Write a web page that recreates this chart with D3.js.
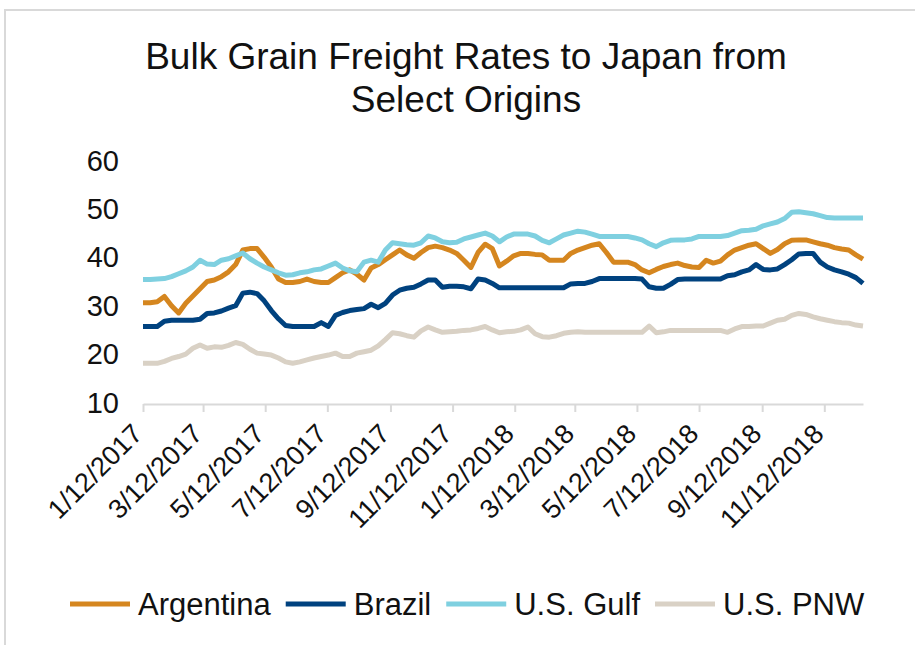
<!DOCTYPE html>
<html>
<head>
<meta charset="utf-8">
<script src="https://cdn.jsdelivr.net/npm/d3@7"></script>
<style>
  body { margin: 0; background: #fff; }
  text { font-family: "Liberation Sans", Arial, sans-serif; fill: #111; }
</style>
</head>
<body>
<script>
// weekly observations, first week and tick labels
const startDate = '2017-01-12';
const tickLabels = ['1/12/2017', '3/12/2017', '5/12/2017', '7/12/2017', '9/12/2017', '11/12/2017',
  '1/12/2018', '3/12/2018', '5/12/2018', '7/12/2018', '9/12/2018', '11/12/2018'];
const yTicks = [10, 20, 30, 40, 50, 60];

const seriesNames = ['Argentina', 'Brazil', 'U.S. Gulf', 'U.S. PNW'];
const seriesColors = ['#d5861f', '#00427f', '#7fd0e0', '#d9d1c5'];

const argentina = [30.6, 30.6, 30.8, 31.9, 30.0, 28.5, 30.5, 32.0, 33.5, 35.0,
  35.3, 36.0, 37.0, 38.5, 41.5, 41.8, 41.8, 40.0, 38.0, 35.5,
  34.8, 34.8, 35.0, 35.5, 35.0, 34.8, 34.8, 35.8, 36.8, 37.4,
  36.5, 35.3, 37.8, 38.5, 39.5, 40.5, 41.5, 40.5, 39.8, 41.0,
  42.0, 42.3, 42.0, 41.5, 40.8, 39.4, 37.9, 41.0, 42.7, 41.8,
  38.2, 39.2, 40.3, 40.8, 40.8, 40.6, 40.5, 39.4, 39.4, 39.4,
  40.8, 41.5, 42.0, 42.5, 42.8, 41.0, 39.0, 39.0, 39.0, 38.5,
  37.4, 36.8, 37.5, 38.1, 38.5, 38.8, 38.3, 38.0, 37.9, 39.4,
  38.8, 39.2, 40.5, 41.5, 42.0, 42.5, 42.8, 41.8, 40.8, 41.6,
  42.8, 43.5, 43.6, 43.6, 43.2, 42.8, 42.5, 42.0, 41.7, 41.5,
  40.5, 39.6];

const brazil = [25.7, 25.7, 25.7, 26.8, 27.0, 27.0, 27.0, 27.0, 27.2, 28.4,
  28.5, 28.9, 29.5, 30.0, 32.6, 32.8, 32.5, 31.0, 29.0, 27.3,
  25.9, 25.7, 25.7, 25.7, 25.7, 26.5, 25.7, 28.0, 28.6, 29.0,
  29.2, 29.4, 30.3, 29.6, 30.5, 32.2, 33.2, 33.6, 33.8, 34.5,
  35.3, 35.3, 33.8, 34.0, 34.0, 33.9, 33.5, 35.5, 35.3, 34.6,
  33.7, 33.7, 33.7, 33.7, 33.7, 33.7, 33.7, 33.7, 33.7, 33.7,
  34.5, 34.6, 34.6, 35.0, 35.6, 35.6, 35.6, 35.6, 35.6, 35.6,
  35.5, 33.9, 33.6, 33.6, 34.4, 35.4, 35.5, 35.5, 35.5, 35.5,
  35.5, 35.5, 36.2, 36.4, 37.0, 37.4, 38.5, 37.5, 37.4, 37.6,
  38.5, 39.5, 40.7, 40.8, 40.8, 39.0, 38.0, 37.4, 37.0, 36.5,
  35.8, 34.6];

const usGulf = [35.4, 35.4, 35.5, 35.6, 36.0, 36.6, 37.2, 38.0, 39.4, 38.6,
  38.5, 39.4, 39.7, 40.3, 40.9, 39.7, 38.8, 38.0, 37.4, 36.8,
  36.3, 36.4, 36.8, 37.0, 37.4, 37.6, 38.2, 38.8, 37.8, 37.2,
  37.0, 39.0, 39.4, 39.0, 41.5, 43.0, 42.8, 42.6, 42.5, 43.0,
  44.4, 44.0, 43.2, 43.0, 43.1, 43.8, 44.2, 44.6, 45.0, 44.4,
  43.2, 44.2, 44.8, 44.8, 44.8, 44.4, 43.5, 43.0, 43.8, 44.6,
  45.0, 45.4, 45.2, 44.8, 44.3, 44.3, 44.3, 44.3, 44.3, 44.0,
  43.6, 42.8, 42.2, 43.0, 43.5, 43.6, 43.6, 43.8, 44.3, 44.3,
  44.3, 44.3, 44.5, 45.0, 45.5, 45.6, 45.8, 46.5, 46.9, 47.3,
  48.0, 49.3, 49.4, 49.2, 49.0, 48.6, 48.2, 48.1, 48.1, 48.1,
  48.1, 48.1];

const usPnw = [18.1, 18.1, 18.1, 18.5, 19.1, 19.5, 20.0, 21.2, 21.9, 21.2,
  21.5, 21.4, 21.8, 22.4, 22.0, 21.0, 20.2, 20.0, 19.8, 19.2,
  18.4, 18.1, 18.4, 18.8, 19.2, 19.5, 19.8, 20.2, 19.5, 19.5,
  20.2, 20.5, 20.8, 21.7, 23.0, 24.4, 24.2, 23.8, 23.5, 24.8,
  25.6, 25.0, 24.5, 24.6, 24.7, 24.9, 25.0, 25.3, 25.7, 25.0,
  24.4, 24.6, 24.7, 25.0, 25.6, 24.2, 23.6, 23.5, 23.8, 24.3,
  24.5, 24.6, 24.5, 24.5, 24.5, 24.5, 24.5, 24.5, 24.5, 24.5,
  24.5, 25.8, 24.4, 24.6, 24.9, 24.9, 24.9, 24.9, 24.9, 24.9,
  24.9, 24.9, 24.5, 25.2, 25.7, 25.7, 25.8, 25.8, 26.4, 27.0,
  27.2, 28.0, 28.4, 28.2, 27.7, 27.3, 27.0, 26.7, 26.5, 26.4,
  26.0, 25.8];

const allSeries = [argentina, brazil, usGulf, usPnw];

const width = 915;
const height = 645;
const plot = {left: 143, right: 863, top: 160.5, bottom: 402.5};

const parse = d3.timeParse('%Y-%m-%d');
const parseTick = d3.timeParse('%m/%d/%Y');
const first = parse(startDate);
const dates = argentina.map((d, i) => d3.timeDay.offset(first, i * 7));

const svg = d3.select('body').append('svg')
  .attr('width', width)
  .attr('height', height);

// chart frame
svg.append('path')
  .attr('d', `M5,${height + 5} V10 H${width + 5}`)
  .attr('fill', 'none')
  .attr('stroke', '#d9d9d9')
  .attr('stroke-width', 2);

// title
const title = svg.append('text')
  .attr('text-anchor', 'middle')
  .style('font-size', '37px');
title.append('tspan').attr('x', 466).attr('y', 69).text('Bulk Grain Freight Rates to Japan from');
title.append('tspan').attr('x', 466).attr('y', 112).text('Select Origins');

const x = d3.scaleTime()
  .domain([first, dates[dates.length - 1]])
  .range([plot.left, plot.right]);

const y = d3.scaleLinear()
  .domain([10, 60])
  .range([plot.bottom, plot.top]);

// y labels (no axis line)
svg.append('g')
  .selectAll('text')
  .data(yTicks)
  .enter().append('text')
  .attr('x', 119)
  .attr('y', (d) => y(d))
  .attr('dy', '0.35em')
  .attr('text-anchor', 'end')
  .style('font-size', '29px')
  .text((d) => d);

// x axis
const tickDates = tickLabels.map(parseTick);
const xAxis = svg.append('g')
  .attr('transform', `translate(0,${plot.bottom + 1.5})`)
  .call(d3.axisBottom(x).tickValues(tickDates).tickSize(8).tickSizeOuter(0).tickFormat(''));
xAxis.select('.domain').attr('stroke', '#d9d9d9').attr('stroke-width', 2);
xAxis.selectAll('.tick line').attr('stroke', '#d9d9d9').attr('stroke-width', 2);

svg.append('g')
  .selectAll('text')
  .data(tickLabels)
  .enter().append('text')
  .attr('transform', (d, i) => `translate(${x(tickDates[i]) + 1},${plot.bottom + 33}) rotate(-45)`)
  .attr('text-anchor', 'end')
  .style('font-size', '27px')
  .text((d) => d);

// series lines
const line = d3.line()
  .x((d, i) => x(dates[i]))
  .y((d) => y(d));

svg.append('g')
  .selectAll('path')
  .data(allSeries)
  .enter().append('path')
  .attr('d', line)
  .attr('fill', 'none')
  .attr('stroke', (d, i) => seriesColors[i])
  .attr('stroke-width', 5)
  .attr('stroke-linejoin', 'round');

// legend
const legend = svg.append('g').attr('transform', 'translate(0,604)');
let lx = 70;
seriesNames.forEach((name, i) => {
  legend.append('line')
    .attr('x1', lx).attr('x2', lx + 60)
    .attr('y1', 0).attr('y2', 0)
    .attr('stroke', seriesColors[i])
    .attr('stroke-width', 5);
  const t = legend.append('text')
    .attr('x', lx + 68)
    .attr('dy', '0.35em')
    .style('font-size', '31px')
    .text(name);
  lx += 68 + t.node().getComputedTextLength() + 15;
});
</script>
</body>
</html>
